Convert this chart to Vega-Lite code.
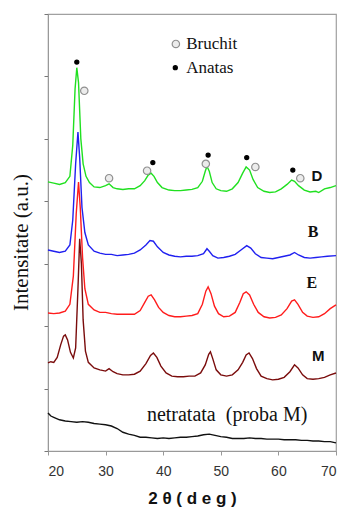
{
  "$schema": "https://vega.github.io/schema/vega-lite/v6.json",
  "autosize": {"type": "none"},
  "padding": {"left": 48, "top": 14, "right": 9, "bottom": 64},
  "width": 288,
  "height": 437,
  "background": "white",
  "config": {
    "view": {"stroke": "#a0a0a0", "strokeWidth": 1.2}
  },
  "datasets": {
    "lines": [
      {"s":"D","x":20,"y":4.31},{"s":"D","x":21,"y":4.29},{"s":"D","x":22,"y":4.27},{"s":"D","x":23,"y":4.3},{"s":"D","x":23.8,"y":4.4},{"s":"D","x":24.3,"y":4.9},{"s":"D","x":24.7,"y":5.8},{"s":"D","x":25.0,"y":6.14},{"s":"D","x":25.3,"y":5.9},{"s":"D","x":25.7,"y":5.0},{"s":"D","x":26.1,"y":4.6},{"s":"D","x":26.6,"y":4.4},{"s":"D","x":27.2,"y":4.3},{"s":"D","x":28,"y":4.23},{"s":"D","x":29,"y":4.22},{"s":"D","x":30,"y":4.25},{"s":"D","x":30.6,"y":4.28},{"s":"D","x":31.3,"y":4.22},{"s":"D","x":32,"y":4.2},{"s":"D","x":33,"y":4.19},{"s":"D","x":34,"y":4.2},{"s":"D","x":35,"y":4.2},{"s":"D","x":36,"y":4.25},{"s":"D","x":36.8,"y":4.33},{"s":"D","x":37.4,"y":4.42},{"s":"D","x":37.9,"y":4.45},{"s":"D","x":38.4,"y":4.4},{"s":"D","x":39,"y":4.3},{"s":"D","x":39.8,"y":4.22},{"s":"D","x":41,"y":4.18},{"s":"D","x":42,"y":4.17},{"s":"D","x":43,"y":4.17},{"s":"D","x":44,"y":4.18},{"s":"D","x":45,"y":4.19},{"s":"D","x":46,"y":4.22},{"s":"D","x":46.8,"y":4.32},{"s":"D","x":47.3,"y":4.48},{"s":"D","x":47.6,"y":4.56},{"s":"D","x":48.0,"y":4.48},{"s":"D","x":48.5,"y":4.3},{"s":"D","x":49.2,"y":4.2},{"s":"D","x":50,"y":4.17},{"s":"D","x":51,"y":4.16},{"s":"D","x":52,"y":4.2},{"s":"D","x":53,"y":4.3},{"s":"D","x":53.8,"y":4.45},{"s":"D","x":54.4,"y":4.55},{"s":"D","x":55,"y":4.5},{"s":"D","x":55.6,"y":4.35},{"s":"D","x":56.4,"y":4.22},{"s":"D","x":57.5,"y":4.16},{"s":"D","x":58.5,"y":4.14},{"s":"D","x":59.5,"y":4.15},{"s":"D","x":60.5,"y":4.2},{"s":"D","x":61.5,"y":4.27},{"s":"D","x":62.3,"y":4.34},{"s":"D","x":62.8,"y":4.32},{"s":"D","x":63.5,"y":4.25},{"s":"D","x":64.5,"y":4.18},{"s":"D","x":65.5,"y":4.15},{"s":"D","x":66.5,"y":4.16},{"s":"D","x":67,"y":4.14},{"s":"D","x":68,"y":4.2},{"s":"D","x":69,"y":4.22},{"s":"D","x":70,"y":4.25},
      {"s":"B","x":20,"y":3.22},{"s":"B","x":21,"y":3.2},{"s":"B","x":22,"y":3.18},{"s":"B","x":23,"y":3.2},{"s":"B","x":23.8,"y":3.3},{"s":"B","x":24.3,"y":3.7},{"s":"B","x":24.8,"y":4.6},{"s":"B","x":25.2,"y":5.11},{"s":"B","x":25.5,"y":4.7},{"s":"B","x":25.9,"y":3.9},{"s":"B","x":26.4,"y":3.5},{"s":"B","x":27,"y":3.3},{"s":"B","x":28,"y":3.2},{"s":"B","x":29,"y":3.17},{"s":"B","x":30,"y":3.15},{"s":"B","x":31,"y":3.15},{"s":"B","x":32,"y":3.13},{"s":"B","x":33,"y":3.14},{"s":"B","x":34,"y":3.15},{"s":"B","x":35,"y":3.17},{"s":"B","x":36,"y":3.22},{"s":"B","x":37,"y":3.3},{"s":"B","x":37.7,"y":3.37},{"s":"B","x":38.3,"y":3.36},{"s":"B","x":39,"y":3.27},{"s":"B","x":40,"y":3.18},{"s":"B","x":41,"y":3.14},{"s":"B","x":42,"y":3.12},{"s":"B","x":43,"y":3.11},{"s":"B","x":44,"y":3.12},{"s":"B","x":45,"y":3.12},{"s":"B","x":46,"y":3.13},{"s":"B","x":47,"y":3.16},{"s":"B","x":47.6,"y":3.24},{"s":"B","x":48,"y":3.2},{"s":"B","x":48.6,"y":3.13},{"s":"B","x":49.5,"y":3.09},{"s":"B","x":50.5,"y":3.1},{"s":"B","x":51.5,"y":3.12},{"s":"B","x":52.5,"y":3.15},{"s":"B","x":53.5,"y":3.22},{"s":"B","x":54.5,"y":3.29},{"s":"B","x":55.2,"y":3.25},{"s":"B","x":56,"y":3.16},{"s":"B","x":57,"y":3.1},{"s":"B","x":58,"y":3.09},{"s":"B","x":59,"y":3.08},{"s":"B","x":60,"y":3.1},{"s":"B","x":61,"y":3.12},{"s":"B","x":62,"y":3.14},{"s":"B","x":62.8,"y":3.18},{"s":"B","x":63.5,"y":3.14},{"s":"B","x":64.5,"y":3.1},{"s":"B","x":65.5,"y":3.09},{"s":"B","x":66.5,"y":3.1},{"s":"B","x":67.5,"y":3.11},{"s":"B","x":68.5,"y":3.12},{"s":"B","x":70,"y":3.13},
      {"s":"E","x":20,"y":2.21},{"s":"E","x":21,"y":2.2},{"s":"E","x":22,"y":2.21},{"s":"E","x":23,"y":2.24},{"s":"E","x":23.8,"y":2.35},{"s":"E","x":24.4,"y":2.8},{"s":"E","x":24.9,"y":3.8},{"s":"E","x":25.3,"y":4.31},{"s":"E","x":25.6,"y":3.9},{"s":"E","x":26,"y":3.1},{"s":"E","x":26.4,"y":2.6},{"s":"E","x":27,"y":2.35},{"s":"E","x":28,"y":2.26},{"s":"E","x":29,"y":2.22},{"s":"E","x":30,"y":2.22},{"s":"E","x":31,"y":2.2},{"s":"E","x":32,"y":2.19},{"s":"E","x":33,"y":2.19},{"s":"E","x":34,"y":2.19},{"s":"E","x":35,"y":2.19},{"s":"E","x":36,"y":2.25},{"s":"E","x":36.8,"y":2.38},{"s":"E","x":37.4,"y":2.48},{"s":"E","x":37.9,"y":2.5},{"s":"E","x":38.5,"y":2.42},{"s":"E","x":39.2,"y":2.3},{"s":"E","x":40,"y":2.22},{"s":"E","x":41,"y":2.17},{"s":"E","x":42,"y":2.15},{"s":"E","x":43,"y":2.15},{"s":"E","x":44,"y":2.16},{"s":"E","x":45,"y":2.17},{"s":"E","x":46,"y":2.2},{"s":"E","x":46.8,"y":2.35},{"s":"E","x":47.4,"y":2.56},{"s":"E","x":47.8,"y":2.63},{"s":"E","x":48.3,"y":2.52},{"s":"E","x":48.9,"y":2.32},{"s":"E","x":49.6,"y":2.2},{"s":"E","x":50.5,"y":2.15},{"s":"E","x":51.5,"y":2.16},{"s":"E","x":52.5,"y":2.22},{"s":"E","x":53.3,"y":2.38},{"s":"E","x":53.9,"y":2.52},{"s":"E","x":54.4,"y":2.55},{"s":"E","x":55,"y":2.5},{"s":"E","x":55.7,"y":2.35},{"s":"E","x":56.5,"y":2.22},{"s":"E","x":57.5,"y":2.15},{"s":"E","x":58.5,"y":2.13},{"s":"E","x":59.5,"y":2.14},{"s":"E","x":60.5,"y":2.18},{"s":"E","x":61.5,"y":2.28},{"s":"E","x":62.3,"y":2.4},{"s":"E","x":62.8,"y":2.42},{"s":"E","x":63.4,"y":2.35},{"s":"E","x":64.2,"y":2.22},{"s":"E","x":65,"y":2.16},{"s":"E","x":66,"y":2.14},{"s":"E","x":67,"y":2.15},{"s":"E","x":68,"y":2.2},{"s":"E","x":69,"y":2.28},{"s":"E","x":70,"y":2.34},
      {"s":"M","x":20,"y":1.41},{"s":"M","x":20.5,"y":1.43},{"s":"M","x":21,"y":1.42},{"s":"M","x":21.6,"y":1.5},{"s":"M","x":22.2,"y":1.7},{"s":"M","x":22.7,"y":1.84},{"s":"M","x":23.0,"y":1.86},{"s":"M","x":23.4,"y":1.78},{"s":"M","x":23.9,"y":1.58},{"s":"M","x":24.4,"y":1.49},{"s":"M","x":24.8,"y":1.65},{"s":"M","x":25.2,"y":2.6},{"s":"M","x":25.5,"y":3.4},{"s":"M","x":25.8,"y":3.0},{"s":"M","x":26.1,"y":2.1},{"s":"M","x":26.5,"y":1.6},{"s":"M","x":27,"y":1.42},{"s":"M","x":28,"y":1.33},{"s":"M","x":29,"y":1.3},{"s":"M","x":30,"y":1.28},{"s":"M","x":30.6,"y":1.32},{"s":"M","x":31.3,"y":1.27},{"s":"M","x":32,"y":1.24},{"s":"M","x":33,"y":1.22},{"s":"M","x":34,"y":1.22},{"s":"M","x":35,"y":1.23},{"s":"M","x":36,"y":1.28},{"s":"M","x":37,"y":1.4},{"s":"M","x":37.8,"y":1.53},{"s":"M","x":38.3,"y":1.57},{"s":"M","x":38.9,"y":1.5},{"s":"M","x":39.6,"y":1.36},{"s":"M","x":40.5,"y":1.25},{"s":"M","x":41.5,"y":1.2},{"s":"M","x":42.5,"y":1.19},{"s":"M","x":43.5,"y":1.19},{"s":"M","x":44.5,"y":1.2},{"s":"M","x":45.5,"y":1.2},{"s":"M","x":46.5,"y":1.25},{"s":"M","x":47.3,"y":1.38},{"s":"M","x":47.9,"y":1.55},{"s":"M","x":48.2,"y":1.59},{"s":"M","x":48.6,"y":1.48},{"s":"M","x":49.2,"y":1.3},{"s":"M","x":50,"y":1.22},{"s":"M","x":51,"y":1.2},{"s":"M","x":52,"y":1.22},{"s":"M","x":53,"y":1.3},{"s":"M","x":53.8,"y":1.42},{"s":"M","x":54.4,"y":1.54},{"s":"M","x":54.9,"y":1.57},{"s":"M","x":55.5,"y":1.48},{"s":"M","x":56.2,"y":1.32},{"s":"M","x":57,"y":1.2},{"s":"M","x":58,"y":1.16},{"s":"M","x":59,"y":1.14},{"s":"M","x":60,"y":1.15},{"s":"M","x":61,"y":1.18},{"s":"M","x":62,"y":1.27},{"s":"M","x":62.8,"y":1.38},{"s":"M","x":63.4,"y":1.33},{"s":"M","x":64.2,"y":1.22},{"s":"M","x":65,"y":1.16},{"s":"M","x":66,"y":1.15},{"s":"M","x":67,"y":1.16},{"s":"M","x":68,"y":1.18},{"s":"M","x":69,"y":1.22},{"s":"M","x":70,"y":1.25},
      {"s":"N","x":20,"y":0.61},{"s":"N","x":20.5,"y":0.56},{"s":"N","x":21,"y":0.54},{"s":"N","x":22,"y":0.5},{"s":"N","x":23,"y":0.48},{"s":"N","x":24,"y":0.47},{"s":"N","x":25,"y":0.46},{"s":"N","x":26,"y":0.47},{"s":"N","x":27,"y":0.46},{"s":"N","x":28,"y":0.44},{"s":"N","x":29,"y":0.43},{"s":"N","x":30,"y":0.42},{"s":"N","x":31,"y":0.4},{"s":"N","x":32,"y":0.36},{"s":"N","x":33,"y":0.3},{"s":"N","x":34,"y":0.27},{"s":"N","x":35,"y":0.25},{"s":"N","x":36,"y":0.22},{"s":"N","x":37,"y":0.22},{"s":"N","x":38,"y":0.21},{"s":"N","x":39,"y":0.2},{"s":"N","x":40,"y":0.21},{"s":"N","x":41,"y":0.2},{"s":"N","x":42,"y":0.21},{"s":"N","x":43,"y":0.22},{"s":"N","x":44,"y":0.22},{"s":"N","x":45,"y":0.23},{"s":"N","x":46,"y":0.24},{"s":"N","x":47,"y":0.26},{"s":"N","x":48,"y":0.27},{"s":"N","x":49,"y":0.25},{"s":"N","x":50,"y":0.23},{"s":"N","x":51,"y":0.22},{"s":"N","x":52,"y":0.2},{"s":"N","x":53,"y":0.2},{"s":"N","x":54,"y":0.2},{"s":"N","x":55,"y":0.21},{"s":"N","x":56,"y":0.2},{"s":"N","x":57,"y":0.2},{"s":"N","x":58,"y":0.19},{"s":"N","x":59,"y":0.19},{"s":"N","x":60,"y":0.19},{"s":"N","x":61,"y":0.18},{"s":"N","x":62,"y":0.18},{"s":"N","x":63,"y":0.18},{"s":"N","x":64,"y":0.17},{"s":"N","x":65,"y":0.17},{"s":"N","x":66,"y":0.16},{"s":"N","x":67,"y":0.16},{"s":"N","x":68,"y":0.15},{"s":"N","x":69,"y":0.15},{"s":"N","x":70,"y":0.13}
    ],
    "markers": [
      {"m":"Anatas","x":25.0,"y":6.23},{"m":"Bruchit","x":26.3,"y":5.77},
      {"m":"Bruchit","x":30.6,"y":4.37},
      {"m":"Bruchit","x":37.2,"y":4.49},{"m":"Anatas","x":38.2,"y":4.62},
      {"m":"Bruchit","x":47.4,"y":4.6},{"m":"Anatas","x":47.8,"y":4.74},
      {"m":"Anatas","x":54.5,"y":4.7},{"m":"Bruchit","x":56.0,"y":4.55},
      {"m":"Anatas","x":62.5,"y":4.5},{"m":"Bruchit","x":63.8,"y":4.37},
      {"m":"Bruchit","x":42.2,"y":6.52},{"m":"Anatas","x":42.1,"y":6.14}
    ],
    "keyText": [
      {"t":"Bruchit","x":44.0,"y":6.52},{"t":"Anatas","x":44.0,"y":6.14}
    ],
    "sansLabels": [
      {"t":"D","x":66.7,"y":4.41},{"t":"M","x":66.9,"y":1.52}
    ],
    "serifLabels": [
      {"t":"B","x":66.0,"y":3.51},{"t":"E","x":65.8,"y":2.69}
    ],
    "note": [
      {"t":"netratata\u00a0 (proba M)","x":51.1,"y":0.58}
    ]
  },
  "encoding": {
    "x": {"field": "x", "type": "quantitative", "scale": {"domain": [20, 70], "nice": false},
      "axis": {"values": [20, 30, 40, 50, 60, 70], "grid": false, "domainColor": "#999", "tickColor": "#999", "tickSize": 4,
        "labelFont": "Liberation Sans", "labelFontSize": 14, "labelColor": "#333", "labelPadding": 9,
        "title": "2 θ  ( d e g )", "titleFont": "Liberation Sans", "titleFontSize": 17, "titleFontWeight": "bold", "titleColor": "#111", "titlePadding": 12}},
    "y": {"field": "y", "type": "quantitative", "scale": {"domain": [0, 7], "nice": false},
      "axis": {"values": [0, 1, 2, 3, 4, 5, 6, 7], "labels": false, "grid": false, "domainColor": "#999", "tickColor": "#777", "tickSize": 4,
        "title": "Intensitate (a.u.)", "titleFont": "Liberation Serif", "titleFontSize": 21, "titleFontWeight": "normal", "titleColor": "#111", "titlePadding": 12, "titleY": 228}}
  },
  "layer": [
    {
      "data": {"name": "lines"},
      "mark": {"type": "line", "strokeWidth": 1.4, "interpolate": "linear"},
      "encoding": {
        "color": {"field": "s", "type": "nominal", "legend": null,
          "scale": {"domain": ["N", "M", "E", "B", "D"], "range": ["#111111", "#7a0c0c", "#ff1c1c", "#2020f0", "#20e020"]}},
        "strokeWidth": {"condition": {"test": "datum.s === 'N'", "value": 2}, "value": 1.4},
        "order": {"field": "x", "type": "quantitative"}
      }
    },
    {
      "data": {"name": "markers"},
      "mark": {"type": "point", "filled": true, "opacity": 1, "strokeWidth": 1.2, "size": 55},
      "encoding": {
        "shape": {"field": "m", "type": "nominal", "legend": null, "scale": {"domain": ["Bruchit", "Anatas"], "range": ["circle", "M-0.55,0A0.55,0.55 0 1,0 0.55,0A0.55,0.55 0 1,0 -0.55,0Z"]}},
        "fill": {"field": "m", "type": "nominal", "legend": null, "scale": {"domain": ["Bruchit", "Anatas"], "range": ["#ececec", "#000000"]}},
        "stroke": {"field": "m", "type": "nominal", "legend": null, "scale": {"domain": ["Bruchit", "Anatas"], "range": ["#909090", "#000000"]}}
      }
    },
    {
      "data": {"name": "keyText"},
      "mark": {"type": "text", "font": "Liberation Serif", "fontSize": 17, "color": "#111", "align": "left", "baseline": "middle"},
      "encoding": {"text": {"field": "t"}}
    },
    {
      "data": {"name": "sansLabels"},
      "mark": {"type": "text", "font": "Liberation Sans", "fontWeight": "bold", "fontSize": 15, "color": "#111", "align": "center", "baseline": "middle"},
      "encoding": {"text": {"field": "t"}}
    },
    {
      "data": {"name": "serifLabels"},
      "mark": {"type": "text", "font": "Liberation Serif", "fontWeight": "bold", "fontSize": 16, "color": "#111", "align": "center", "baseline": "middle"},
      "encoding": {"text": {"field": "t"}}
    },
    {
      "data": {"name": "note"},
      "mark": {"type": "text", "font": "Liberation Serif", "fontSize": 20, "color": "#111", "align": "center", "baseline": "middle"},
      "encoding": {"text": {"field": "t"}}
    }
  ]
}
